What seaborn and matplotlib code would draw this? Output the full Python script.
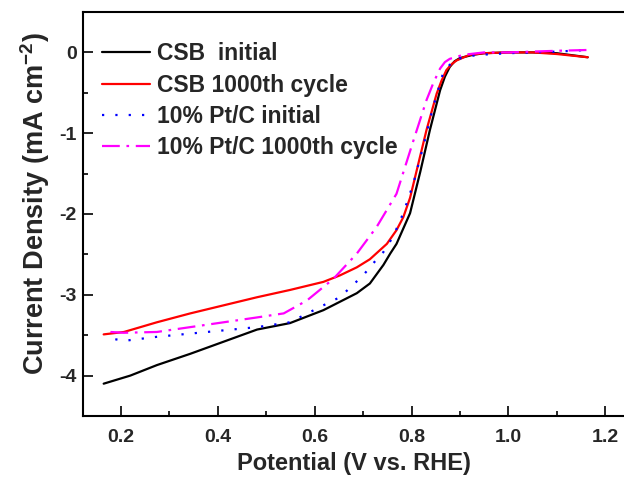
import matplotlib
matplotlib.use("Agg")
import matplotlib.pyplot as plt
import seaborn as sns
from matplotlib.ticker import MultipleLocator

# ---- data ----
v_csb_init = [0.164, 0.219, 0.274, 0.343, 0.412, 0.481, 0.549, 0.618, 0.687, 0.714, 0.742,
              0.756, 0.769, 0.797, 0.818, 0.838, 0.859, 0.869, 0.879, 0.889, 0.900, 0.927,
              0.95, 1.0, 1.05, 1.1, 1.164]
j_csb_init = [-4.10, -4.00, -3.87, -3.73, -3.58, -3.43, -3.35, -3.19, -2.98, -2.86, -2.63,
              -2.49, -2.37, -1.99, -1.48, -0.96, -0.47, -0.30, -0.18, -0.11, -0.07, -0.03,
              -0.01, 0.0, 0.0, -0.01, -0.06]

v_csb_1000 = [0.164, 0.206, 0.274, 0.343, 0.412, 0.481, 0.549, 0.618, 0.652, 0.687, 0.714,
              0.749, 0.769, 0.783, 0.797, 0.831, 0.852, 0.862, 0.872, 0.882, 0.893, 0.920,
              0.95, 1.0, 1.05, 1.1, 1.164]
j_csb_1000 = [-3.49, -3.46, -3.34, -3.23, -3.13, -3.03, -2.94, -2.84, -2.76, -2.66, -2.56,
              -2.37, -2.20, -2.04, -1.80, -0.96, -0.51, -0.35, -0.22, -0.15, -0.10, -0.03,
              -0.01, 0.0, 0.0, -0.02, -0.06]

v_pt_init = [0.188, 0.206, 0.274, 0.343, 0.412, 0.481, 0.549, 0.618, 0.652, 0.700, 0.721,
             0.742, 0.762, 0.783, 0.804, 0.824, 0.845, 0.865, 0.886, 0.914, 0.941, 1.0,
             1.05, 1.1, 1.164]
j_pt_init = [-3.55, -3.57, -3.52, -3.48, -3.44, -3.40, -3.34, -3.13, -3.03, -2.76, -2.61,
             -2.47, -2.28, -1.99, -1.62, -1.17, -0.67, -0.26, -0.10, -0.05, -0.03, -0.01,
             0.0, 0.01, 0.03]

v_pt_1000 = [0.178, 0.206, 0.274, 0.343, 0.412, 0.481, 0.536, 0.584, 0.639, 0.687, 0.728,
             0.769, 0.804, 0.831, 0.845, 0.859, 0.869, 0.879, 0.907, 0.95, 1.0, 1.05,
             1.1, 1.164]
j_pt_1000 = [-3.46, -3.47, -3.46, -3.40, -3.34, -3.28, -3.23, -3.07, -2.80, -2.49, -2.16,
             -1.75, -1.09, -0.59, -0.38, -0.20, -0.12, -0.08, -0.03, 0.0, 0.0, 0.01,
             0.02, 0.03]

labels = ["CSB  initial", "CSB 1000th cycle", "10% Pt/C initial", "10% Pt/C 1000th cycle"]
x_ticks = [0.2, 0.4, 0.6, 0.8, 1.0, 1.2]
y_ticks = [0, -1, -2, -3, -4]

sns.set_theme(style="ticks")
plt.rcParams["font.family"] = ["Liberation Sans", "DejaVu Sans"]
plt.rcParams["font.weight"] = "bold"
plt.rcParams["axes.labelweight"] = "bold"
plt.rcParams["mathtext.fontset"] = "custom"
plt.rcParams["mathtext.rm"] = "Liberation Sans:bold"
plt.rcParams["mathtext.bf"] = "Liberation Sans:bold"
plt.rcParams["mathtext.default"] = "bf"

fig = plt.figure(figsize=(6.24, 4.79), dpi=100)
ax = fig.add_axes([83 / 624, 63 / 479, 541 / 624, 404 / 479])

series = [
    (v_csb_init, j_csb_init, "black", "-"),
    (v_csb_1000, j_csb_1000, "#ff0000", "-"),
    (v_pt_init, j_pt_init, "#0000ff", (0, (1, 5))),
    (v_pt_1000, j_pt_1000, "#ff00ff", (0, (8, 3, 1.2, 3))),
]
for (vx, jy, col, ls), lab in zip(series, labels):
    sns.lineplot(x=vx, y=jy, ax=ax, color=col, linestyle=ls, linewidth=1.6,
                 label=lab, sort=False, estimator=None)

ax.set_xlim(0.1213, 1.239)
ax.set_ylim(-4.5, 0.5)
ax.set_xticks(x_ticks)
ax.set_xticklabels([f"{t:.1f}" for t in x_ticks])
ax.set_yticks(y_ticks)
ax.set_yticklabels([f"{t}" for t in y_ticks])
ax.xaxis.set_minor_locator(MultipleLocator(0.1))
ax.yaxis.set_minor_locator(MultipleLocator(0.5))
ax.tick_params(which="both", direction="in", width=1.2, color="black")
ax.tick_params(which="major", length=7.5)
ax.tick_params(which="minor", length=3.8)
ax.tick_params(axis="x", which="major", labelsize=14, pad=9)
ax.tick_params(axis="y", which="major", labelsize=14, pad=4.5)
ax.tick_params(right=False, top=False, which="both")
for s in ["left", "bottom", "top"]:
    ax.spines[s].set_linewidth(1.5)
    ax.spines[s].set_color("black")
ax.spines["right"].set_visible(False)

ax.set_xlabel("Potential (V vs. RHE)", fontsize=17, fontweight="bold", labelpad=5)
ax.set_ylabel("Current Density (mA cm$^{-2}$)", fontsize=19.5, fontweight="bold")
ax.yaxis.set_label_coords(-0.058, 0.525)

leg = ax.legend(loc="upper left", bbox_to_anchor=(0.035, 0.925), frameon=False,
                handlelength=2.1, handletextpad=0.3, labelspacing=0.36,
                borderaxespad=0, borderpad=0, prop={"weight": "bold", "size": 16.5})

fig.savefig("out.png", dpi=100)
